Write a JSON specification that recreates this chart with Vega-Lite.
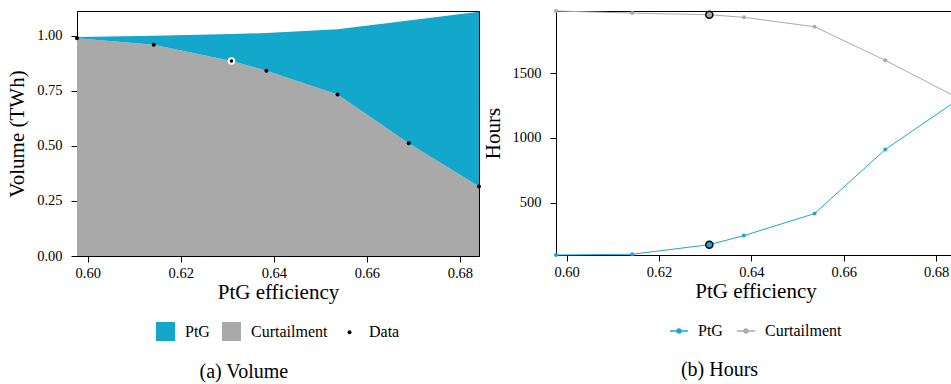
{
  "$schema": "https://vega.github.io/schema/vega-lite/v6.json",
  "padding": {"left": 6, "top": 7, "right": 0, "bottom": 0},
  "spacing": -1,
  "config": {
    "view": {"stroke": "#000", "strokeWidth": 1},
    "font": "Liberation Serif",
    "axis": {"grid": false, "domainColor": "#000", "tickColor": "#000", "tickSize": 6, "labelFont": "Liberation Serif", "labelFontSize": 14.5, "labelColor": "#000", "titleFont": "Liberation Serif", "titleFontSize": 21, "titleFontWeight": "normal", "titleColor": "#000", "labelPadding": 4, "titlePadding": 2},
    "axisY": {"titlePadding": 9, "labelPadding": 9},
    "legend": {"labelFont": "Liberation Serif", "labelFontSize": 16, "labelColor": "#000", "layout": {"bottom": {"anchor": "middle", "direction": "vertical", "center": true}}},
    "title": {"font": "Liberation Serif", "fontSize": 20, "fontWeight": "normal", "color": "#000"}
  },
  "datasets": {
    "volume": [
      {"eff": 0.5977, "series": "Curtailment", "volume": 0.989},
      {"eff": 0.6142, "series": "Curtailment", "volume": 0.960},
      {"eff": 0.6309, "series": "Curtailment", "volume": 0.886},
      {"eff": 0.6384, "series": "Curtailment", "volume": 0.842},
      {"eff": 0.6537, "series": "Curtailment", "volume": 0.734},
      {"eff": 0.6690, "series": "Curtailment", "volume": 0.512},
      {"eff": 0.6841, "series": "Curtailment", "volume": 0.316},
      {"eff": 0.5977, "series": "PtG", "volume": 0.006},
      {"eff": 0.6142, "series": "PtG", "volume": 0.040},
      {"eff": 0.6309, "series": "PtG", "volume": 0.122},
      {"eff": 0.6384, "series": "PtG", "volume": 0.171},
      {"eff": 0.6537, "series": "PtG", "volume": 0.296},
      {"eff": 0.6690, "series": "PtG", "volume": 0.558},
      {"eff": 0.6841, "series": "PtG", "volume": 0.794}
    ],
    "hours": [
      {"eff": 0.5977, "series": "PtG", "hours": 94},
      {"eff": 0.6142, "series": "PtG", "hours": 100},
      {"eff": 0.6309, "series": "PtG", "hours": 174},
      {"eff": 0.6384, "series": "PtG", "hours": 244},
      {"eff": 0.6537, "series": "PtG", "hours": 415},
      {"eff": 0.6690, "series": "PtG", "hours": 911},
      {"eff": 0.6841, "series": "PtG", "hours": 1280},
      {"eff": 0.5977, "series": "Curtailment", "hours": 1983},
      {"eff": 0.6142, "series": "Curtailment", "hours": 1967},
      {"eff": 0.6309, "series": "Curtailment", "hours": 1954},
      {"eff": 0.6384, "series": "Curtailment", "hours": 1934},
      {"eff": 0.6537, "series": "Curtailment", "hours": 1861},
      {"eff": 0.6690, "series": "Curtailment", "hours": 1601},
      {"eff": 0.6841, "series": "Curtailment", "hours": 1322}
    ]
  },
  "hconcat": [
    {
      "width": 402,
      "height": 245,
      "title": {"text": "(a) Volume", "orient": "bottom", "anchor": "middle", "frame": "bounds", "offset": 21},
      "layer": [
        {
          "data": {"name": "volume"},
          "mark": {"type": "area"},
          "encoding": {
            "x": {"field": "eff", "type": "quantitative", "scale": {"domain": [0.5977, 0.6841], "nice": false, "zero": false}, "axis": {"values": [0.6, 0.62, 0.64, 0.66, 0.68], "format": ".2f", "title": "PtG efficiency", "labelFont": "Liberation Serif"}},
            "y": {"field": "volume", "type": "quantitative", "stack": "zero", "scale": {"domain": [0, 1.113], "nice": false}, "axis": {"values": [0, 0.25, 0.5, 0.75, 1], "format": ".2f", "title": "Volume (TWh)", "labelFont": "Liberation Serif"}},
            "color": {"field": "series", "type": "nominal", "scale": {"domain": ["PtG", "Curtailment", "Data"], "range": ["#13a7cc", "#a9a9a9", "#000000"]},
              "legend": {"orient": "bottom", "direction": "horizontal", "title": null, "offset": 19, "symbolSize": 361, "symbolStrokeWidth": 0, "labelOffset": 10, "columnPadding": 12,
                "encode": {"symbols": {"update": {"size": {"signal": "datum.value === 'Data' ? 16 : 361"}, "shape": {"signal": "datum.value === 'Data' ? 'circle' : 'square'"}}}}}},
            "order": {"field": "series", "sort": "ascending"}
          }
        },
        {
          "data": {"name": "volume"},
          "transform": [{"filter": {"field": "series", "equal": "Curtailment"}}],
          "mark": {"type": "point", "filled": true, "size": 16, "opacity": 1},
          "encoding": {
            "x": {"field": "eff", "type": "quantitative"},
            "y": {"field": "volume", "type": "quantitative"},
            "color": {"datum": "Data"}
          }
        },
        {
          "data": {"name": "volume"},
          "transform": [{"filter": {"field": "series", "equal": "Curtailment"}}, {"filter": {"field": "eff", "equal": 0.6309}}],
          "mark": {"type": "point", "filled": true, "size": 30, "opacity": 1, "fill": "#000", "stroke": "#fff", "strokeWidth": 2},
          "encoding": {
            "x": {"field": "eff", "type": "quantitative"},
            "y": {"field": "volume", "type": "quantitative"}
          }
        }
      ]
    },
    {
      "width": 399,
      "height": 244,
      "title": {"text": "(b) Hours", "orient": "bottom", "anchor": "middle", "frame": "bounds", "offset": 21},
      "layer": [
        {
          "data": {"name": "hours"},
          "mark": {"type": "line", "strokeWidth": 1, "point": {"filled": true, "size": 16}},
          "encoding": {
            "x": {"field": "eff", "type": "quantitative", "scale": {"domain": [0.5977, 0.6841], "nice": false, "zero": false}, "axis": {"values": [0.6, 0.62, 0.64, 0.66, 0.68], "format": ".2f", "title": "PtG efficiency", "labelFont": "Liberation Serif"}},
            "y": {"field": "hours", "type": "quantitative", "scale": {"domain": [94, 1983], "nice": false, "zero": false}, "axis": {"values": [500, 1000, 1500], "format": "d", "title": "Hours", "labelFont": "Liberation Serif"}},
            "color": {"field": "series", "type": "nominal", "scale": {"domain": ["PtG", "Curtailment"], "range": ["#1aa8d0", "#aaaaaa"]},
              "legend": {"orient": "bottom", "direction": "horizontal", "title": null, "offset": 19, "symbolType": "M-1,0H1M0.22,0A0.22,0.22,0,1,1,-0.22,0A0.22,0.22,0,1,1,0.22,0", "symbolSize": 324, "symbolStrokeWidth": 1.5, "labelOffset": 9, "columnPadding": 11}}
          }
        },
        {
          "data": {"name": "hours"},
          "transform": [{"filter": {"field": "eff", "equal": 0.6309}}, {"filter": {"field": "series", "equal": "PtG"}}],
          "mark": {"type": "point", "filled": true, "size": 50, "opacity": 1, "fill": "#1aa8d0", "stroke": "#000", "strokeWidth": 1.5},
          "encoding": {
            "x": {"field": "eff", "type": "quantitative"},
            "y": {"field": "hours", "type": "quantitative"}
          }
        },
        {
          "data": {"name": "hours"},
          "transform": [{"filter": {"field": "eff", "equal": 0.6309}}, {"filter": {"field": "series", "equal": "Curtailment"}}],
          "mark": {"type": "point", "filled": true, "size": 50, "opacity": 1, "fill": "#aaaaaa", "stroke": "#000", "strokeWidth": 1.5},
          "encoding": {
            "x": {"field": "eff", "type": "quantitative"},
            "y": {"field": "hours", "type": "quantitative"}
          }
        }
      ]
    }
  ],
  "resolve": {"scale": {"x": "independent", "y": "independent", "color": "independent"}, "legend": {"color": "independent"}}
}
